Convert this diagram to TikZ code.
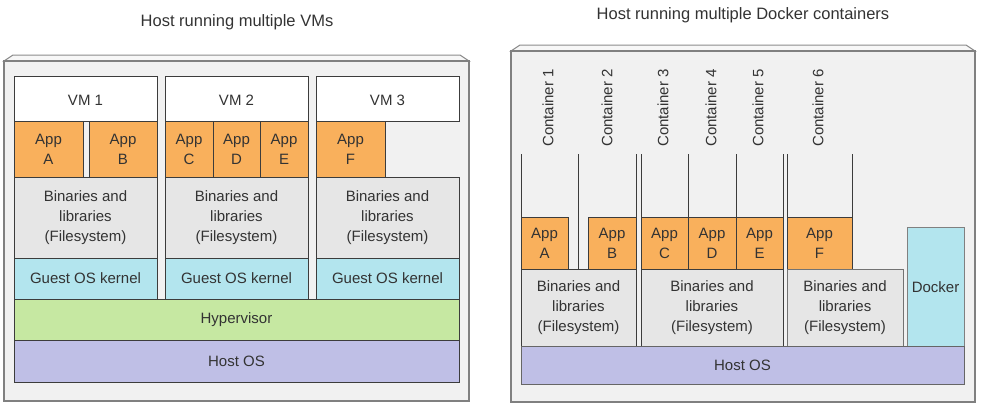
\documentclass[tikz,border=0pt]{standalone}
\usepackage{fontspec}
\setmainfont{Liberation Sans}
\definecolor{appc}{HTML}{F9B05C}
\definecolor{binc}{HTML}{E6E6E6}
\definecolor{kerc}{HTML}{B3E5EE}
\definecolor{hypc}{HTML}{C6E8A2}
\definecolor{hostc}{HTML}{BFBFE6}
\definecolor{panc}{HTML}{F1F1F1}
\definecolor{edgec}{HTML}{3C3C3C}
\definecolor{txtc}{HTML}{333333}
\begin{document}
\begin{tikzpicture}[x=1pt,y=-1pt,
  txt/.style={text=txtc,font=\fontsize{15}{20}\selectfont,align=center,inner sep=0pt},
  ttl/.style={text=txtc,font=\fontsize{16.5}{20}\selectfont,inner sep=0pt},
  box/.style={draw=edgec,line width=0.9pt},
  appbox/.style={box,fill=appc},
  binbox/.style={box,fill=binc},
  kerbox/.style={box,fill=kerc},
  hypbox/.style={box,fill=hypc},
  hostbox/.style={box,fill=hostc},
  vmbox/.style={box,fill=white},
  panel/.style={draw=black!50,line width=1.2pt,fill=panc},
  bevel/.style={draw=black!45,line width=1pt,fill=black!3},
  cline/.style={draw=edgec,line width=0.9pt}]
\useasboundingbox (0,0) rectangle (983,408);
% ---------- titles
\node[ttl] (t1) at (237,22) {Host running multiple VMs};
\node[ttl] (t2) at (743,15) {Host running multiple Docker containers};
% ---------- left panel
\path[bevel] (4,61) -- (13,55) -- (460,55) -- (469,61) -- cycle;
\path[panel] (4,61) rectangle (469,401);
% VM boxes
\path[vmbox] (14,76) rectangle (157,121);
\path[vmbox] (165,76) rectangle (308,121);
\path[vmbox] (316,76) rectangle (459,121);
\node[txt] (vm1) at (85.5,100) {VM 1};
\node[txt] (vm2) at (236.5,100) {VM 2};
\node[txt] (vm3) at (387.5,100) {VM 3};
% apps
\path[appbox] (14,121) rectangle (83,177) node[midway,txt] (la) {App\\A};
\path[appbox] (89,121) rectangle (157,177) node[midway,txt] (lb) {App\\B};
\path[appbox] (165,121) rectangle (213,177) node[midway,txt] (lc) {App\\C};
\path[appbox] (213,121) rectangle (260,177) node[midway,txt] (ld) {App\\D};
\path[appbox] (260,121) rectangle (308,177) node[midway,txt] (le) {App\\E};
\path[appbox] (316,121) rectangle (385,177) node[midway,txt] (lf) {App\\F};
% binaries
\path[binbox] (14,177) rectangle (157,258) node[midway,txt] (lb1) {Binaries and\\libraries\\(Filesystem)};
\path[binbox] (165,177) rectangle (308,258) node[midway,txt] (lb2) {Binaries and\\libraries\\(Filesystem)};
\path[binbox] (316,177) rectangle (459,258) node[midway,txt] (lb3) {Binaries and\\libraries\\(Filesystem)};
% kernels
\path[kerbox] (14,258) rectangle (157,299) node[midway,txt] (k1) {Guest OS kernel};
\path[kerbox] (165,258) rectangle (308,299) node[midway,txt] (k2) {Guest OS kernel};
\path[kerbox] (316,258) rectangle (459,299) node[midway,txt] (k3) {Guest OS kernel};
% hypervisor / host
\path[hypbox] (14,299) rectangle (459,340) node[midway,txt] (hyp) {Hypervisor};
\path[hostbox] (14,340) rectangle (459,382) node[midway,txt] (lhost) {Host OS};
% ---------- right panel
\path[bevel] (511,51) -- (520,45) -- (966,45) -- (975,51) -- cycle;
\path[panel] (511,51) rectangle (975,402);
% container labels
\foreach \n/\x in {1/548,2/607,3/663,4/711,5/758,6/818}
  \node[txt,rotate=90,anchor=west] (c\n) at (\x,147) {Container \n};
% container lines
\foreach \x in {521,636,641,688,736,783,787,852}
  \draw[cline] (\x,154) -- (\x,217);
\coordinate (cTop) at (578,154);
\coordinate (cBot) at (578,269);
\draw[cline] (cTop) -- (cBot);
% apps
\path[appbox] (521,217) rectangle (568,269) node[midway,txt] (ra) {App\\A};
\path[appbox] (588,217) rectangle (636,269) node[midway,txt] (rb) {App\\B};
\path[appbox] (641,217) rectangle (688,269) node[midway,txt] (rc) {App\\C};
\path[appbox] (688,217) rectangle (736,269) node[midway,txt] (rd) {App\\D};
\path[appbox] (736,217) rectangle (783,269) node[midway,txt] (re) {App\\E};
\path[appbox] (787,217) rectangle (852,269) node[midway,txt] (rf) {App\\F};
% binaries
\path[binbox] (521,269) rectangle (636,346) node[midway,txt] (rb1) {Binaries and\\libraries\\(Filesystem)};
\path[binbox] (641,269) rectangle (783,346) node[midway,txt] (rb2) {Binaries and\\libraries\\(Filesystem)};
\path[binbox,draw=black!55] (787,269) rectangle (903,346) node[midway,txt] (rb3) {Binaries and\\libraries\\(Filesystem)};
% docker
\path[kerbox,draw=black!50] (907,227) rectangle (964,346);
\node[txt] (dock) at (935.5,287) {Docker};
% host
\path[hostbox,draw=black!60] (521,346) rectangle (964,384) node[midway,txt] (rhost) {Host OS};
\end{tikzpicture}
\end{document}
